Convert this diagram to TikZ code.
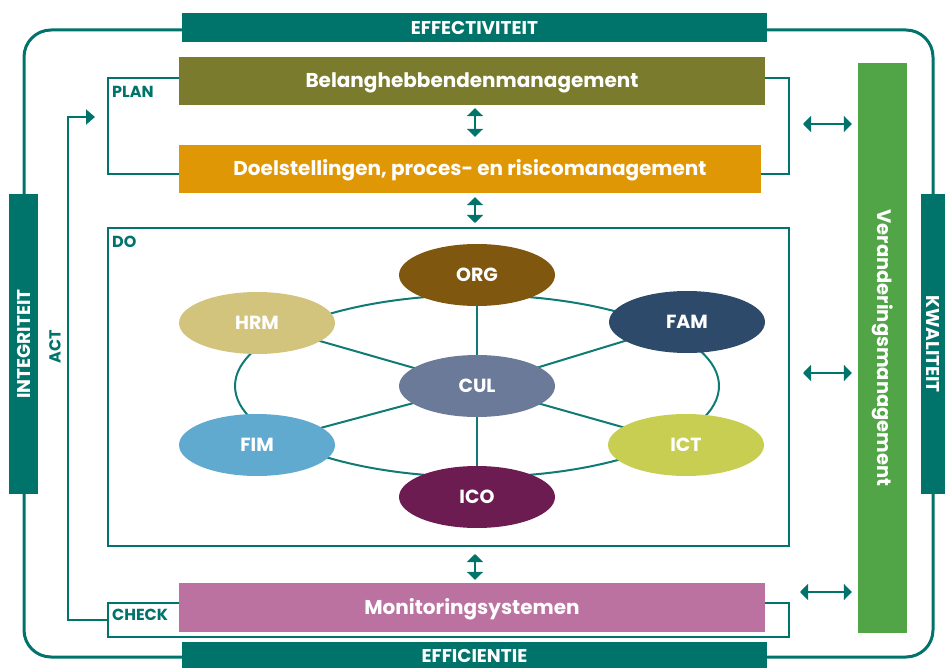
\documentclass[tikz,border=0pt]{standalone}
\usepackage{fontspec}
\setmainfont{Poppins}
\usetikzlibrary{shapes.geometric,arrows.meta,backgrounds}
\definecolor{tealc}{RGB}{0,115,107}
\definecolor{linec}{RGB}{16,122,116}
\definecolor{olivec}{RGB}{122,123,45}
\definecolor{orangec}{RGB}{224,151,5}
\definecolor{mauvec}{RGB}{187,114,160}
\definecolor{greenc}{RGB}{82,165,70}
\definecolor{orgc}{RGB}{128,87,15}
\definecolor{hrmc}{RGB}{210,196,124}
\definecolor{famc}{RGB}{45,74,107}
\definecolor{culc}{RGB}{108,122,153}
\definecolor{fimc}{RGB}{96,170,208}
\definecolor{ictc}{RGB}{199,206,82}
\definecolor{icoc}{RGB}{109,28,82}
\tikzset{
  bar/.style={fill=tealc, text=white, font=\fontsize{18.5}{20}\selectfont\bfseries, inner sep=0pt},
  mainbox/.style={text=white, font=\fontsize{20}{22}\selectfont\bfseries, inner sep=0pt, minimum height=48pt},
  hbox/.style={mainbox, text height=14pt, text depth=0pt},
  bracket/.style={draw=tealc, line width=2pt, inner sep=0pt},
  lbl/.style={text=tealc, font=\fontsize{16}{18}\selectfont\bfseries, inner sep=1pt},
  circ/.style={ellipse, minimum width=156pt, minimum height=62pt, inner sep=0pt, text=white, font=\fontsize{19}{21}\selectfont\bfseries},
  ringline/.style={draw=linec, line width=2pt},
  dbl/.style={draw=tealc, line width=2.5pt, {Triangle[length=8pt,width=16pt]}-{Triangle[length=8pt,width=16pt]}},
  frame/.style={draw=tealc, line width=3pt, rounded corners=27pt}
}
\begin{document}
\begin{tikzpicture}[x=1pt,y=-1pt]
\useasboundingbox (0,0) rectangle (945,668);
% outer frame
\draw[frame] (24,30) rectangle (933,657);
% brackets / frames
\node[bracket, minimum width=681pt, minimum height=96pt] (plan) at (448.5,126) {};
\node[bracket, minimum width=681pt, minimum height=318pt] (do) at (448.5,387) {};
\node[bracket, minimum width=681pt, minimum height=34pt] (check) at (448.5,620) {};
% bars
\node[bar, minimum width=585pt, minimum height=29pt] (eff) at (474.5,27.5) {EFFECTIVITEIT};
\node[bar, minimum width=585pt, minimum height=28pt] (effic) at (474.5,656) {EFFICIENTIE};
\node[bar, minimum width=300pt, minimum height=29pt, rotate=90] (integ) at (23.5,344) {INTEGRITEIT};
\node[bar, minimum width=300pt, minimum height=24pt, rotate=-90] (kwal) at (933,344) {KWALITEIT};
% main boxes
\node[hbox, fill=olivec, minimum width=586pt] (belang) at (472,81) {Belanghebbendenmanagement};
\node[hbox, fill=orangec, minimum width=582pt] (doel) at (470,169) {Doelstellingen, proces- en risicomanagement};
\node[hbox, fill=mauvec, minimum width=586pt, minimum height=49pt] (monitor) at (472,607.5) {Monitoringsystemen};
\node[mainbox, fill=greenc, minimum width=570pt, minimum height=49pt, rotate=-90, font=\fontsize{19.5}{21}\selectfont\bfseries] (veran) at (882.5,348) {Veranderingsmanagement};
% labels
\node[lbl, anchor=west] (lplan) at (111,92) {PLAN};
\node[lbl, anchor=west] (ldo) at (111,242) {DO};
\node[lbl, anchor=west] (lcheck) at (111,615) {CHECK};
\node[lbl, rotate=90] (lact) at (55,347) {ACT};
% ellipses
\node[circ, fill=orgc] (org) at (477,275) {ORG};
\node[circ, fill=hrmc] (hrm) at (257,323) {HRM};
\node[circ, fill=famc] (fam) at (687,322) {FAM};
\node[circ, fill=culc] (cul) at (477,386) {CUL};
\node[circ, fill=fimc] (fim) at (257,445) {FIM};
\node[circ, fill=ictc] (ict) at (686,445) {ICT};
\node[circ, fill=icoc] (ico) at (477,497) {ICO};
\begin{scope}[on background layer]
  \draw[ringline] (cul.center) ellipse [x radius=242pt, y radius=91pt];
  \draw[ringline] (cul.center) -- (org.center);
  \draw[ringline] (cul.center) -- (ico.center);
  \draw[ringline] (cul.center) -- (hrm.center);
  \draw[ringline] (cul.center) -- (fim.center);
  \draw[ringline] (cul.center) -- (fam.center);
  \draw[ringline] (cul.center) -- (ict.center);
\end{scope}
% vertical double arrows
\draw[dbl, shorten <=3pt, shorten >=8pt] (belang.south -| 475,0) -- (doel.north -| 475,0);
\draw[dbl, shorten <=4pt, shorten >=4pt] (doel.south -| 475,0) -- (do.north -| 475,0);
\draw[dbl, shorten <=7pt, shorten >=3pt] (do.south -| 475,0) -- (monitor.north -| 475,0);
% horizontal double arrows
\draw[dbl, shorten <=13pt, shorten >=6pt] (plan.east |- 0,124) -- (veran.south |- 0,124);
\draw[dbl, shorten <=13pt, shorten >=6pt] (do.east |- 0,373) -- (veran.south |- 0,373);
\draw[dbl, shorten <=10pt, shorten >=6pt] (check.east |- 0,592) -- (veran.south |- 0,592);
% ACT connector
\coordinate (actc) at (68,117);
\coordinate (acttip) at (95,117);
\draw[draw=tealc, line width=2pt, -{Triangle[length=9pt,width=15pt]}] (check.west) -| (actc) -- (acttip);
\end{tikzpicture}
\end{document}
